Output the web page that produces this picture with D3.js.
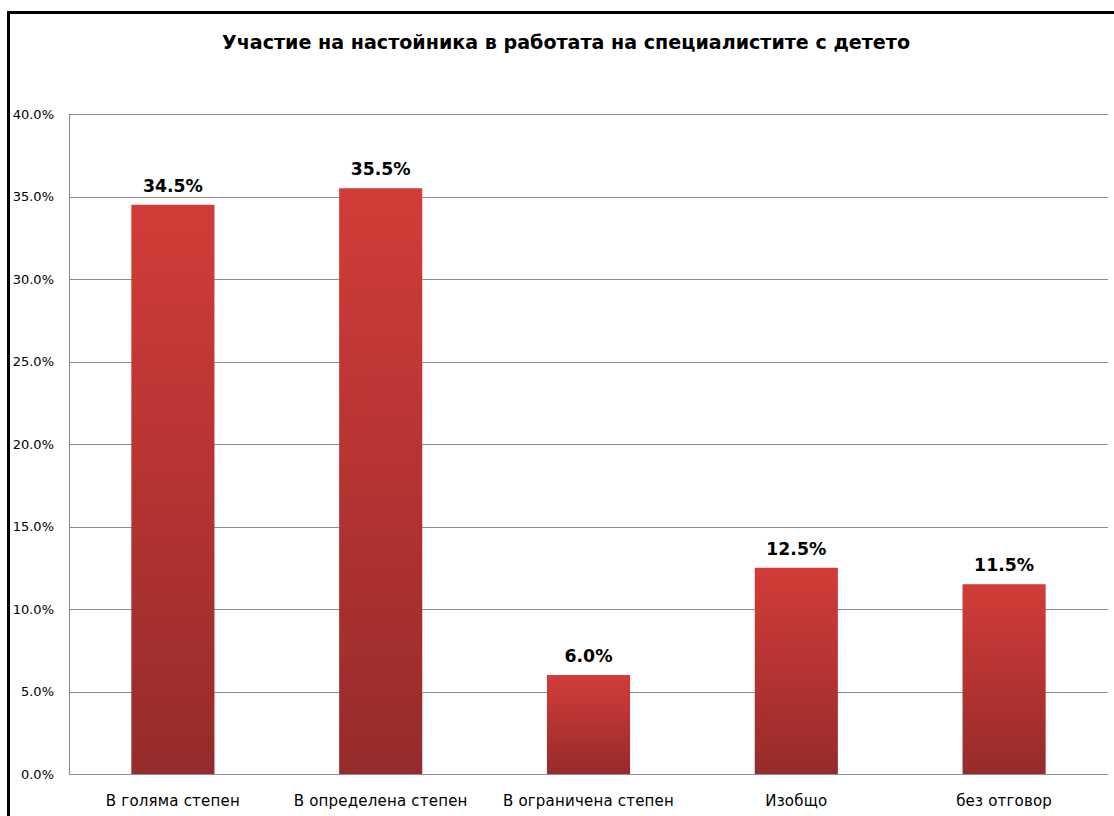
<!DOCTYPE html>
<html><head><meta charset="utf-8">
<script src="https://cdn.jsdelivr.net/npm/d3@7"></script>
<style>body{margin:0;background:#fff;} svg{display:block;}</style>
</head><body>
<script>
const title = "Участие на настойника в работата на специалистите с детето";
const categories = ["В голяма степен", "В определена степен", "В ограничена степен", "Изобщо", "без отговор"];
const values = [34.5, 35.5, 6.0, 12.5, 11.5];
const yTicks = [0, 5, 10, 15, 20, 25, 30, 35, 40];

const W = 1114, H = 816;
const m = {left: 69, right: 1108, top: 114, bottom: 774};
const svg = d3.select("body").append("svg").attr("width", W).attr("height", H);

const defs = svg.append("defs");
const g = defs.append("linearGradient").attr("id", "barGrad").attr("x1", 0).attr("y1", 0).attr("x2", 0).attr("y2", 1);
g.append("stop").attr("offset", "0%").attr("stop-color", "#d23c38");
g.append("stop").attr("offset", "100%").attr("stop-color", "#962b2b");

svg.append("rect").attr("x", 8.5).attr("y", 12.5).attr("width", 1120).attr("height", 820)
  .attr("fill", "#fff").attr("stroke", "#000").attr("stroke-width", 3);

const x = d3.scaleBand().domain(categories).range([m.left, m.right]).paddingInner(0.6).paddingOuter(0.3);
const y = d3.scaleLinear().domain([0, 40]).range([m.bottom, m.top]);

// gridlines
svg.append("g").selectAll("line").data(yTicks).join("line")
  .attr("x1", m.left).attr("x2", m.right)
  .attr("y1", d => Math.round(y(d)) + 0.5).attr("y2", d => Math.round(y(d)) + 0.5)
  .attr("stroke", "#8c8c8c").attr("stroke-width", 1);
svg.append("line").attr("x1", m.left + 0.5).attr("x2", m.left + 0.5).attr("y1", m.top).attr("y2", m.bottom)
  .attr("stroke", "#8c8c8c");

// y axis labels
const yAxis = d3.axisLeft(y).tickValues(yTicks).tickSize(0).tickPadding(15).tickFormat(d => d.toFixed(1) + "%");
const ya = svg.append("g").attr("transform", `translate(${m.left},0)`).call(yAxis);
ya.select(".domain").remove();
ya.selectAll("text").attr("font-family", "DejaVu Sans, sans-serif").attr("font-size", 13).attr("fill", "#000");

// x axis labels
const xAxis = d3.axisBottom(x).tickSize(0).tickPadding(21);
const xa = svg.append("g").attr("transform", `translate(0,${m.bottom})`).call(xAxis);
xa.select(".domain").remove();
xa.selectAll("text").attr("font-family", "DejaVu Sans, sans-serif").attr("font-size", 15)
  .attr("letter-spacing", 0.2).attr("fill", "#000");

// bars
svg.append("g").selectAll("rect").data(values).join("rect")
  .attr("x", (d, i) => x(categories[i])).attr("width", x.bandwidth())
  .attr("y", d => y(d)).attr("height", d => y(0) - y(d))
  .attr("fill", "url(#barGrad)");

// value labels
svg.append("g").selectAll("text").data(values).join("text")
  .attr("x", (d, i) => x(categories[i]) + x.bandwidth() / 2)
  .attr("y", d => y(d) - 13)
  .attr("text-anchor", "middle")
  .attr("font-family", "DejaVu Sans, sans-serif").attr("font-weight", "bold").attr("font-size", 18.5)
  .attr("textLength", d => d >= 10 ? 60 : 48).attr("lengthAdjust", "spacingAndGlyphs")
  .text(d => d.toFixed(1) + "%");

svg.append("text").attr("x", 566).attr("y", 49).attr("text-anchor", "middle")
  .attr("font-family", "DejaVu Sans, sans-serif").attr("font-weight", "bold").attr("font-size", 19)
  .attr("textLength", 688).attr("lengthAdjust", "spacingAndGlyphs")
  .text(title);
</script>
</body></html>
